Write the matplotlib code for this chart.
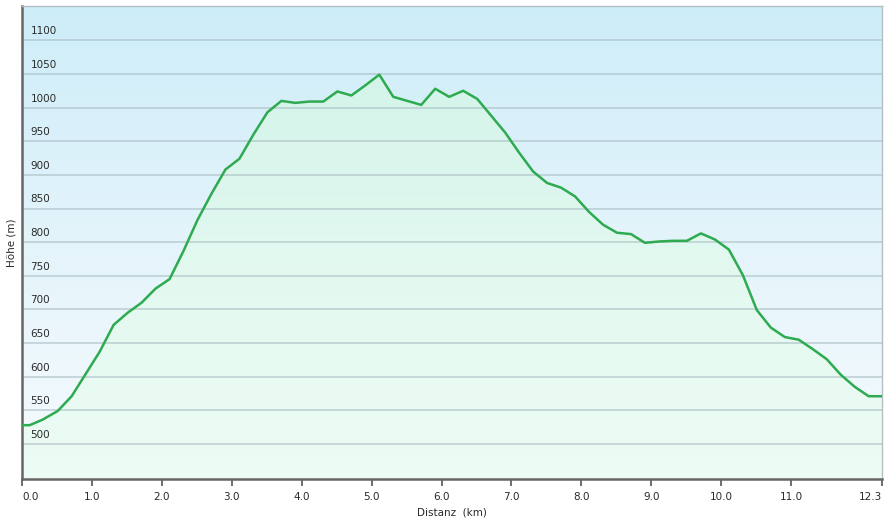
import matplotlib.pyplot as plt
import numpy as np
from matplotlib.colors import LinearSegmentedColormap

# Elevation profile
dist_km = [0.0, 0.11, 0.29, 0.51, 0.71, 0.91, 1.11, 1.31, 1.51, 1.71, 1.91,
           2.11, 2.31, 2.51, 2.71, 2.91, 3.11, 3.31, 3.51, 3.71, 3.91, 4.11,
           4.31, 4.51, 4.71, 4.91, 5.11, 5.31, 5.51, 5.71, 5.91, 6.11, 6.31,
           6.51, 6.71, 6.91, 7.11, 7.31, 7.51, 7.71, 7.91, 8.11, 8.31, 8.51,
           8.71, 8.91, 9.11, 9.31, 9.51, 9.71, 9.91, 10.11, 10.31, 10.51,
           10.71, 10.91, 11.11, 11.31, 11.51, 11.71, 11.91, 12.11, 12.29]
elev_m = [528, 528, 536, 549, 571, 604, 637, 677, 695, 710, 731,
          745, 787, 833, 872, 908, 924, 960, 993, 1010, 1007, 1009,
          1009, 1024, 1018, 1033, 1049, 1016, 1010, 1004, 1028, 1016, 1025,
          1013, 988, 963, 933, 905, 888, 881, 868, 845, 826, 814,
          812, 799, 801, 802, 802, 813, 804, 789, 751, 699,
          673, 659, 655, 641, 626, 603, 585, 571, 571]

x_ticks = [0, 1, 2, 3, 4, 5, 6, 7, 8, 9, 10, 11, 12.3]
x_tick_labels = ["0.0", "1.0", "2.0", "3.0", "4.0", "5.0", "6.0", "7.0",
                 "8.0", "9.0", "10.0", "11.0", "12.3"]
y_grid = [500, 550, 600, 650, 700, 750, 800, 850, 900, 950, 1000, 1050, 1100]

x_min, x_max = 0, 12.3
y_min, y_max = 448, 1151

fig = plt.figure(figsize=(8.89, 5.2), dpi=100)
ax = fig.add_axes([22 / 889, 41 / 520, 860 / 889, 473 / 520])
ax.set_xlim(x_min, x_max)
ax.set_ylim(y_min, y_max)

# sky gradient background
sky = LinearSegmentedColormap.from_list("sky", ["#f6fbfe", "#e4f4fb", "#cdedf9"])
grad = np.linspace(0, 1, 256).reshape(-1, 1)
ax.imshow(grad, cmap=sky, origin="lower", aspect="auto",
          extent=[x_min, x_max, y_min, y_max], zorder=0)

# fill under the profile with a green gradient
green = LinearSegmentedColormap.from_list("grn", ["#edfcf5", "#e3f9f0", "#d4f4ea"])
poly = ax.fill_between(dist_km, elev_m, y_min, color="none", lw=0)
fill_img = ax.imshow(grad, cmap=green, origin="lower", aspect="auto",
                     extent=[x_min, x_max, y_min, max(elev_m)], zorder=1)
fill_img.set_clip_path(poly.get_paths()[0], transform=ax.transData)

# gridlines and labels inside the plot
for v in y_grid:
    ax.axhline(v, color="#a9bcc2", lw=1.3, alpha=0.6, zorder=2)
    ax.text(0.12, v + 6, str(v), fontsize=7.5, color="#2a2a2a",
            va="bottom", ha="left", zorder=4)

ax.plot(dist_km, elev_m, color="#2eaa50", lw=1.8, zorder=3)

ax.set_xticks(x_ticks)
ax.set_xticklabels(x_tick_labels, fontsize=7.5, color="#2a2a2a")
labels = ax.get_xticklabels()
labels[0].set_horizontalalignment("left")
labels[-1].set_horizontalalignment("right")
ax.tick_params(axis="x", length=5, width=1.2, color="#555555", pad=4)
ax.set_yticks([])

for side in ["top", "right"]:
    ax.spines[side].set_color("#b5bec2")
    ax.spines[side].set_linewidth(1)
for side in ["left", "bottom"]:
    ax.spines[side].set_color("#666666")
    ax.spines[side].set_linewidth(1.8)

ax.set_xlabel("Distanz  (km)", fontsize=7.5, color="#2a2a2a", labelpad=4)
ax.set_ylabel("Höhe (m)", fontsize=7.5, color="#2a2a2a", labelpad=4)

fig.savefig("out.png", dpi=100)
